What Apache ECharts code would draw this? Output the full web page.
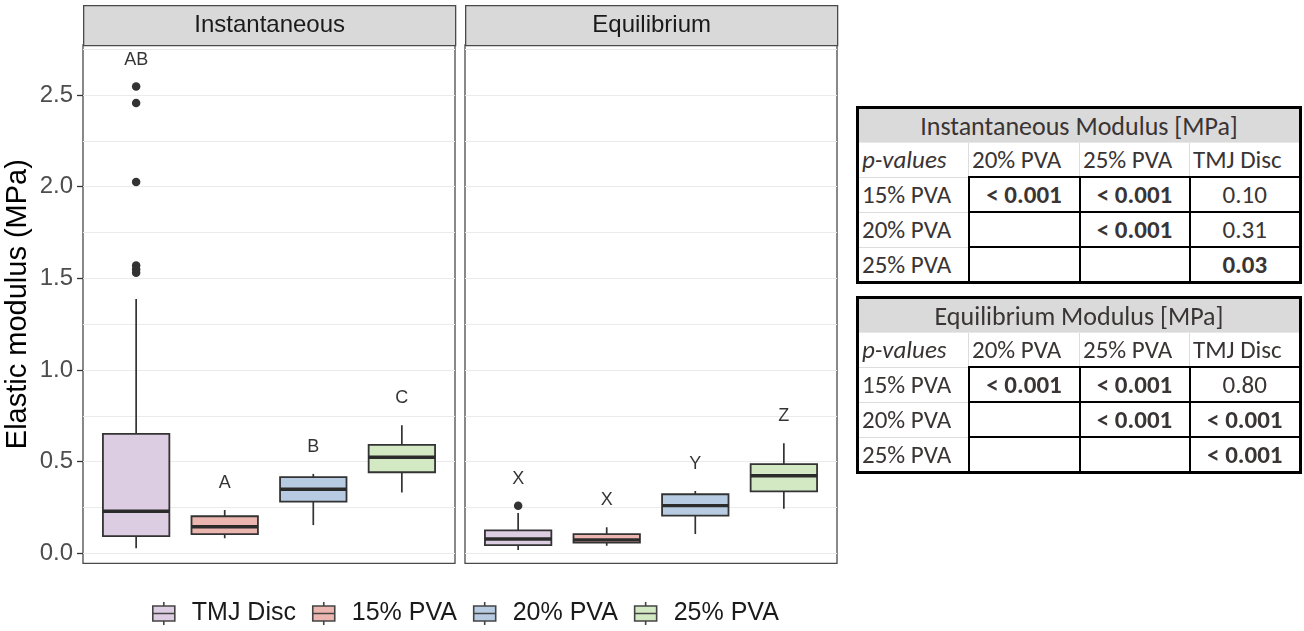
<!DOCTYPE html>
<html>
<head>
<meta charset="utf-8">
<script src="https://cdn.jsdelivr.net/npm/echarts@6/dist/echarts.min.js"></script>
<style>
  html, body { margin: 0; padding: 0; background: #fff; }
  #wrap { position: relative; width: 1304px; height: 631px; overflow: hidden; }
  #chart { position: absolute; left: 0; top: 0; width: 1304px; height: 631px; }
  table.pt {
    position: absolute; border-collapse: collapse; table-layout: fixed;
    border: 3px solid #000; font-family: "Carlito", "Lato", sans-serif;
    color: #3a3434; font-size: 25px; background: #fff;
  }
  table.pt td { border: 1px solid #dcdcdc; padding: 0 3px; height: 33px; line-height: 1; white-space: nowrap; overflow: hidden; }
  table.pt td.hdr { background: #dadada; text-align: center; font-size: 26px; border-bottom: 1px solid #e8e8e8; }
  table.pt td.val { border: 2px solid #000; text-align: center; }
  table.pt td.b { font-weight: bold; }
</style>
</head>
<body>
<div id="wrap">
  <div id="chart"></div>
</div>
<script>
// ---------------- data ----------------
const groups = ['TMJ Disc', '15% PVA', '20% PVA', '25% PVA'];
const panels = ['Instantaneous', 'Equilibrium'];
const yTicks = [0, 0.5, 1.0, 1.5, 2.0, 2.5];
const yGridValues = [0, 0.25, 0.5, 0.75, 1.0, 1.25, 1.5, 1.75, 2.0, 2.25, 2.5, 2.75];

// Instantaneous modulus boxes (whisker low, Q1, median, Q3, whisker high)
const instLow    = [0.027, 0.082, 0.154, 0.331];
const instQ1     = [0.094, 0.105, 0.282, 0.442];
const instMedian = [0.229, 0.145, 0.349, 0.524];
const instQ3     = [0.651, 0.202, 0.416, 0.591];
const instHigh   = [1.387, 0.236, 0.433, 0.698];
const instOutliers = [[2.546, 2.457, 2.026, 1.57, 1.55, 1.53], [], [], []];
const instLetters  = ['AB', 'A', 'B', 'C'];

// Equilibrium modulus boxes
const eqLow    = [0.018, 0.041, 0.105, 0.243];
const eqQ1     = [0.045, 0.058, 0.205, 0.338];
const eqMedian = [0.078, 0.073, 0.260, 0.423];
const eqQ3     = [0.125, 0.105, 0.322, 0.486];
const eqHigh   = [0.220, 0.142, 0.340, 0.600];
const eqOutliers = [[0.26], [], [], []];
const eqLetters  = ['X', 'X', 'Y', 'Z'];

// p-value tables
const tableRowLabels = ['15% PVA', '20% PVA', '25% PVA'];
const tableColLabels = ['20% PVA', '25% PVA', 'TMJ Disc'];
const instPValues = [['< 0.001', '< 0.001', '0.10'], ['', '< 0.001', '0.31'], ['', '', '0.03']];
const eqPValues   = [['< 0.001', '< 0.001', '0.80'], ['', '< 0.001', '< 0.001'], ['', '', '< 0.001']];

// ---------------- styling / layout ----------------
const colors = ['#dccde3', '#ecb6b0', '#b7cce2', '#d2e9c4'];
const FONT = '"Liberation Sans", Arial, sans-serif';
const DARK = '#333333';
const GRID_TOP = 45, GRID_H = 518.3, GRID_W = 372;
const gridLefts = [83, 465];
const STRIP_H = 40;
const Y_MIN = -0.0546, Y_MAX = 2.773;
const HALF = 0.375;
const LETTER_OFFSET = 0.147;

const panelData = [
  { low: instLow, q1: instQ1, med: instMedian, q3: instQ3, high: instHigh, out: instOutliers, letters: instLetters },
  { low: eqLow, q1: eqQ1, med: eqMedian, q3: eqQ3, high: eqHigh, out: eqOutliers, letters: eqLetters }
];

function renderBox(params, api) {
  const x = api.value(0);
  const pLow = api.coord([x, api.value(1)]);
  const pQ1 = api.coord([x, api.value(2)]);
  const pMed = api.coord([x, api.value(3)]);
  const pQ3 = api.coord([x, api.value(4)]);
  const pHigh = api.coord([x, api.value(5)]);
  const left = api.coord([x - HALF, 0])[0];
  const right = api.coord([x + HALF, 0])[0];
  const fill = api.visual('color');
  return {
    type: 'group',
    children: [
      { type: 'line', shape: { x1: pLow[0], y1: pLow[1], x2: pQ1[0], y2: pQ1[1] }, style: { stroke: DARK, lineWidth: 1.7 } },
      { type: 'line', shape: { x1: pQ3[0], y1: pQ3[1], x2: pHigh[0], y2: pHigh[1] }, style: { stroke: DARK, lineWidth: 1.7 } },
      { type: 'rect', shape: { x: left, y: pQ3[1], width: right - left, height: pQ1[1] - pQ3[1] }, style: { fill: fill, stroke: DARK, lineWidth: 1.8 } },
      { type: 'line', shape: { x1: left, y1: pMed[1], x2: right, y2: pMed[1] }, style: { stroke: '#2b2b2b', lineWidth: 3.4 } }
    ]
  };
}

const series = [];
panelData.forEach((pd, p) => {
  // gridlines
  series.push({
    name: '_grid' + p, type: 'line', xAxisIndex: p, yAxisIndex: p, data: [], z: 1,
    markLine: {
      silent: true, symbol: ['none', 'none'], z: 1, animation: false,
      label: { show: false },
      lineStyle: { color: '#ebebeb', type: 'solid', width: 1.2 },
      data: yGridValues.map(v => ({ yAxis: v }))
    }
  });
  groups.forEach((g, i) => {
    series.push({
      name: g, type: 'custom', xAxisIndex: p, yAxisIndex: p, z: 3,
      itemStyle: { color: colors[i], borderColor: DARK },
      renderItem: renderBox,
      encode: { x: 0, y: [1, 2, 3, 4, 5] },
      data: [[i + 1, pd.low[i], pd.q1[i], pd.med[i], pd.q3[i], pd.high[i]]],
      animation: false
    });
    if (pd.out[i].length) {
      series.push({
        name: g, type: 'scatter', xAxisIndex: p, yAxisIndex: p, z: 4,
        symbolSize: 8.5, itemStyle: { color: DARK, opacity: 1 },
        data: pd.out[i].map(v => [i + 1, v]), animation: false
      });
    }
  });
  // letters above each group
  series.push({
    name: '_letters' + p, type: 'scatter', xAxisIndex: p, yAxisIndex: p, z: 5,
    symbolSize: 0, silent: true, animation: false,
    label: { show: true, position: 'inside', formatter: '{b}', fontSize: 18, color: '#000', fontFamily: FONT },
    data: pd.letters.map((l, i) => ({ name: l, value: [i + 1, Math.max(pd.high[i], ...pd.out[i]) + LETTER_OFFSET] }))
  });
});

const legendIcon = 'path://M0,4 L22,4 L22,19 L0,19 Z M0,11.5 L22,11.5 M11,0 L11,4 M11,19 L11,23';

const option = {
  backgroundColor: '#fff',
  animation: false,
  grid: gridLefts.map(l => ({
    left: l, top: GRID_TOP, width: GRID_W, height: GRID_H,
    show: true, borderColor: '#4a4a4a', borderWidth: 1.3, backgroundColor: 'transparent', containLabel: false
  })),
  xAxis: gridLefts.map((l, p) => ({ gridIndex: p, type: 'value', min: 0.4, max: 4.6, show: false })),
  yAxis: [
    {
      gridIndex: 0, type: 'value', min: Y_MIN, max: Y_MAX,
      axisLine: { show: false },
      axisTick: { show: true, customValues: yTicks, length: 6, lineStyle: { color: DARK, width: 1.3 } },
      axisLabel: { customValues: yTicks, formatter: v => v.toFixed(1), fontSize: 24, color: '#4d4d4d', fontFamily: FONT, margin: 10 },
      splitLine: { show: false },
      name: 'Elastic modulus (MPa)', nameLocation: 'middle', nameGap: 51,
      nameTextStyle: { fontSize: 29, color: '#000', fontFamily: FONT }
    },
    { gridIndex: 1, type: 'value', min: Y_MIN, max: Y_MAX, show: false, splitLine: { show: false } }
  ],
  legend: {
    data: groups.map((g, i) => ({ name: g, icon: legendIcon, itemStyle: { color: colors[i], borderColor: '#444', borderWidth: 1.6 } })),
    left: 152, top: 601, padding: 0,
    itemWidth: 22, itemHeight: 23, itemGap: 16,
    selectedMode: false,
    textStyle: { fontSize: 25, color: '#1a1a1a', fontFamily: FONT, padding: [0, 0, 0, 12] }
  },
  graphic: panels.map((name, p) => ({
    type: 'group', left: gridLefts[p], top: GRID_TOP - STRIP_H,
    children: [
      { type: 'rect', shape: { x: 0, y: 0, width: GRID_W, height: STRIP_H }, style: { fill: '#d9d9d9', stroke: '#4a4a4a', lineWidth: 1.3 } },
      { type: 'text', x: GRID_W / 2, y: STRIP_H / 2, style: { text: name, fontSize: 24, fill: '#1a1a1a', fontFamily: FONT, align: 'center', verticalAlign: 'middle' } }
    ]
  })),
  series: series
};

const chart = echarts.init(document.getElementById('chart'), null, { renderer: 'canvas' });
chart.setOption(option);

// ---------------- p-value tables ----------------
function isSignificant(s) {
  if (!s) return false;
  if (s.indexOf('<') === 0) return true;
  return parseFloat(s) < 0.05;
}
function buildTable(title, values, left, top) {
  const t = document.createElement('table');
  t.className = 'pt';
  t.style.left = left + 'px';
  t.style.top = top + 'px';
  t.style.width = '446px';
  const cg = document.createElement('colgroup');
  [111, 111, 110, 111].forEach(w => { const c = document.createElement('col'); c.style.width = w + 'px'; cg.appendChild(c); });
  t.appendChild(cg);
  let tr = document.createElement('tr');
  let td = document.createElement('td');
  td.colSpan = 4; td.className = 'hdr'; td.textContent = title;
  tr.appendChild(td); t.appendChild(tr);
  tr = document.createElement('tr');
  td = document.createElement('td');
  td.innerHTML = '<i>p-values</i>';
  tr.appendChild(td);
  tableColLabels.forEach(c => { const d = document.createElement('td'); d.textContent = c; tr.appendChild(d); });
  t.appendChild(tr);
  tableRowLabels.forEach((r, i) => {
    const row = document.createElement('tr');
    const h = document.createElement('td'); h.textContent = r; row.appendChild(h);
    values[i].forEach(v => {
      const d = document.createElement('td');
      d.className = 'val' + (isSignificant(v) ? ' b' : '');
      d.textContent = v;
      row.appendChild(d);
    });
    t.appendChild(row);
  });
  document.getElementById('wrap').appendChild(t);
}
buildTable('Instantaneous Modulus [MPa]', instPValues, 856, 106);
buildTable('Equilibrium Modulus [MPa]', eqPValues, 856, 296);
</script>
</body>
</html>
